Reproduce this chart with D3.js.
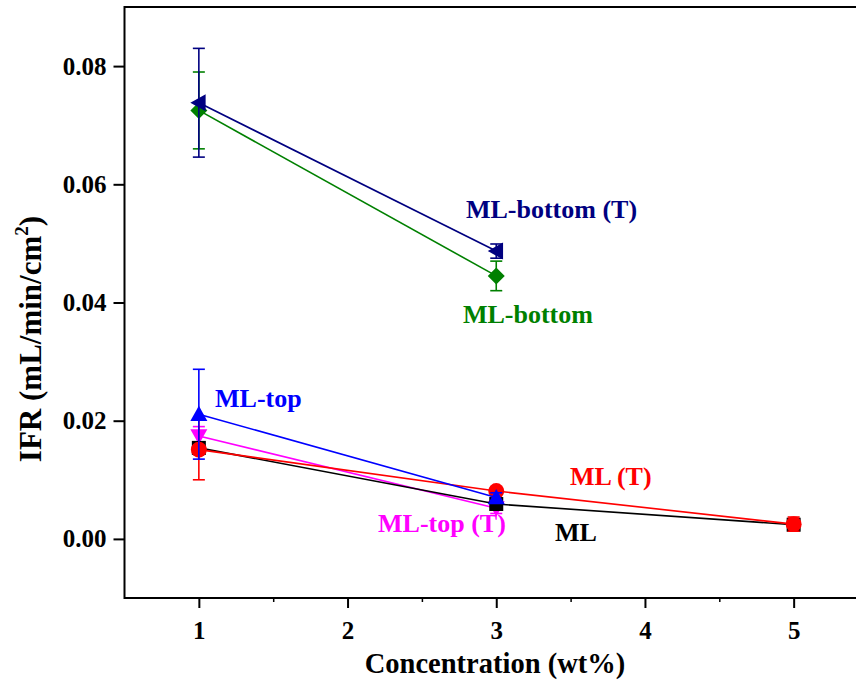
<!DOCTYPE html>
<html>
<head>
<meta charset="utf-8">
<script src="https://cdn.jsdelivr.net/npm/d3@7"></script>
<style>
  html, body { margin: 0; padding: 0; background: #fff; }
  svg { display: block; }
</style>
</head>
<body>
<svg id="chart" width="856" height="683"></svg>
<script>
// Concentrations (wt%)
const concentration = [1, 3, 5];

// IFR values (mL/min/cm²) and their error bars, one pair of arrays per series
const mlValues = [0.0154, 0.0059, 0.0024];
const mlErrors = [0.0006, 0.0005, 0.0010];

const mlTValues = [0.0151, 0.0081, 0.0025];
const mlTErrors = [0.0051, 0.0006, 0.0012];

const mlTopValues = [0.0211, 0.0070];
const mlTopErrors = [0.0076, 0.0008];

const mlTopTValues = [0.0174, 0.0052];
const mlTopTErrors = [0.0016, 0.0009];

const mlBottomValues = [0.0725, 0.0445];
const mlBottomErrors = [0.0065, 0.0025];

const mlBottomTValues = [0.0738, 0.0487];
const mlBottomTErrors = [0.0092, 0.0012];

const xTicks = [1, 2, 3, 4, 5];
const yTicks = [0.00, 0.02, 0.04, 0.06, 0.08];

const seriesNames = ["ML", "ML (T)", "ML-top", "ML-top (T)", "ML-bottom", "ML-bottom (T)"];

// Series styling and label anchors (label anchors in data units)
const series = [
  { name: seriesNames[4], values: mlBottomValues, errors: mlBottomErrors, color: "#008000", symbol: "diamond", label: [2.776, 0.0366] },
  { name: seriesNames[5], values: mlBottomTValues, errors: mlBottomTErrors, color: "#000080", symbol: "triLeft", label: [2.796, 0.0543] },
  { name: seriesNames[3], values: mlTopTValues, errors: mlTopTErrors, color: "#FF00FF", symbol: "triDown", label: [2.205, 0.0011] },
  { name: seriesNames[0], values: mlValues, errors: mlErrors, color: "#000000", symbol: "square", label: [3.395, -0.0003] },
  { name: seriesNames[1], values: mlTValues, errors: mlTErrors, color: "#FF0000", symbol: "circle", label: [3.496, 0.0091] },
  { name: seriesNames[2], values: mlTopValues, errors: mlTopErrors, color: "#0000FF", symbol: "triUp", label: [1.109, 0.0224] }
];

const FONT = "'Liberation Serif', 'DejaVu Serif', 'Times New Roman', Times, serif";

const svg = d3.select("#chart");
const plotLeft = 124.5, plotRight = 868, plotTop = 7, plotBottom = 598;

const x = d3.scaleLinear().domain([0.5, 5.5]).range([plotLeft, plotRight]);
const y = d3.scaleLinear().domain([-0.01, 0.09]).range([plotBottom, plotTop]);

// Marker paths centred at the origin
function markerPath(sym) {
  const s = 8.5;
  switch (sym) {
    case "diamond": return `M0,${-s}L${s},0L0,${s}L${-s},0Z`;
    case "triLeft": return `M${-s},0L${s * 0.8},${-s}L${s * 0.8},${s}Z`;
    case "triUp": return `M0,${-s}L${s},${s * 0.8}L${-s},${s * 0.8}Z`;
    case "triDown": return `M0,${s}L${s},${-s * 0.8}L${-s},${-s * 0.8}Z`;
    case "square": return `M-7,-7H7V7H-7Z`;
    default: return d3.symbol(d3.symbolCircle, 200)();
  }
}

// Frame
svg.append("rect")
  .attr("x", plotLeft).attr("y", plotTop)
  .attr("width", plotRight - plotLeft).attr("height", plotBottom - plotTop)
  .attr("fill", "none").attr("stroke", "#000").attr("stroke-width", 2);

// Bottom axis: major ticks with labels, minor ticks at half steps
const xAxis = svg.append("g").attr("transform", `translate(0,${plotBottom})`)
  .call(d3.axisBottom(x).tickValues(xTicks).tickSize(10).tickPadding(13).tickFormat(d3.format("d")));
xAxis.select(".domain").remove();
xAxis.attr("font-family", FONT).attr("font-weight", "bold");
xAxis.selectAll(".tick line").attr("stroke-width", 2);
xAxis.selectAll("text").attr("font-size", 25).attr("fill", "#000");

const xMinor = svg.append("g").attr("transform", `translate(0,${plotBottom})`)
  .call(d3.axisBottom(x).tickValues([1.5, 2.5, 3.5, 4.5]).tickSize(4).tickFormat(""));
xMinor.select(".domain").remove();
xMinor.selectAll(".tick line").attr("stroke-width", 1.5);

// Left axis
const yAxis = svg.append("g").attr("transform", `translate(${plotLeft},0)`)
  .call(d3.axisLeft(y).tickValues(yTicks).tickSize(11).tickPadding(7).tickFormat(d3.format(".2f")));
yAxis.select(".domain").remove();
yAxis.attr("font-family", FONT).attr("font-weight", "bold");
yAxis.selectAll(".tick line").attr("stroke-width", 2);
yAxis.selectAll("text").attr("font-size", 25).attr("fill", "#000");

// Axis titles
svg.append("text")
  .attr("x", 495).attr("y", 673)
  .attr("font-family", FONT).attr("font-weight", "bold")
  .attr("text-anchor", "middle").attr("font-size", 28.5)
  .text("Concentration (wt%)");

const yTitle = svg.append("text")
  .attr("transform", "translate(41,339) rotate(-90)")
  .attr("font-family", FONT).attr("font-weight", "bold")
  .attr("text-anchor", "middle").attr("font-size", 31);
yTitle.append("tspan").text("IFR (mL/min/cm");
yTitle.append("tspan").attr("font-size", 19).attr("dy", -13).text("2");
yTitle.append("tspan").attr("dy", 13).text(")");

// Series: line, markers, error bars
const line = d3.line().x(d => x(d[0])).y(d => y(d[1]));

series.forEach(s => {
  const pts = s.values.map((v, i) => [concentration[i], v, s.errors[i]]);
  const g = svg.append("g");

  g.append("path").datum(pts)
    .attr("d", line).attr("fill", "none")
    .attr("stroke", s.color).attr("stroke-width", 1.6);

  g.selectAll(".mk").data(pts).join("path")
    .attr("class", "mk")
    .attr("transform", d => `translate(${x(d[0])},${y(d[1])})`)
    .attr("d", markerPath(s.symbol))
    .attr("fill", s.color);

  const eb = g.selectAll(".eb").data(pts).join("g").attr("class", "eb")
    .attr("stroke", s.color).attr("stroke-width", 1.6);
  eb.append("line")
    .attr("x1", d => x(d[0])).attr("x2", d => x(d[0]))
    .attr("y1", d => y(d[1] + d[2])).attr("y2", d => y(d[1] - d[2]));
  eb.append("line")
    .attr("x1", d => x(d[0]) - 6).attr("x2", d => x(d[0]) + 6)
    .attr("y1", d => y(d[1] + d[2])).attr("y2", d => y(d[1] + d[2]));
  eb.append("line")
    .attr("x1", d => x(d[0]) - 6).attr("x2", d => x(d[0]) + 6)
    .attr("y1", d => y(d[1] - d[2])).attr("y2", d => y(d[1] - d[2]));
});

// Series labels, drawn above all marks
series.forEach(s => {
  svg.append("text")
    .attr("x", x(s.label[0])).attr("y", y(s.label[1]))
    .attr("font-family", FONT).attr("font-weight", "bold")
    .attr("font-size", 26).attr("fill", s.color)
    .text(s.name);
});
</script>
</body>
</html>
